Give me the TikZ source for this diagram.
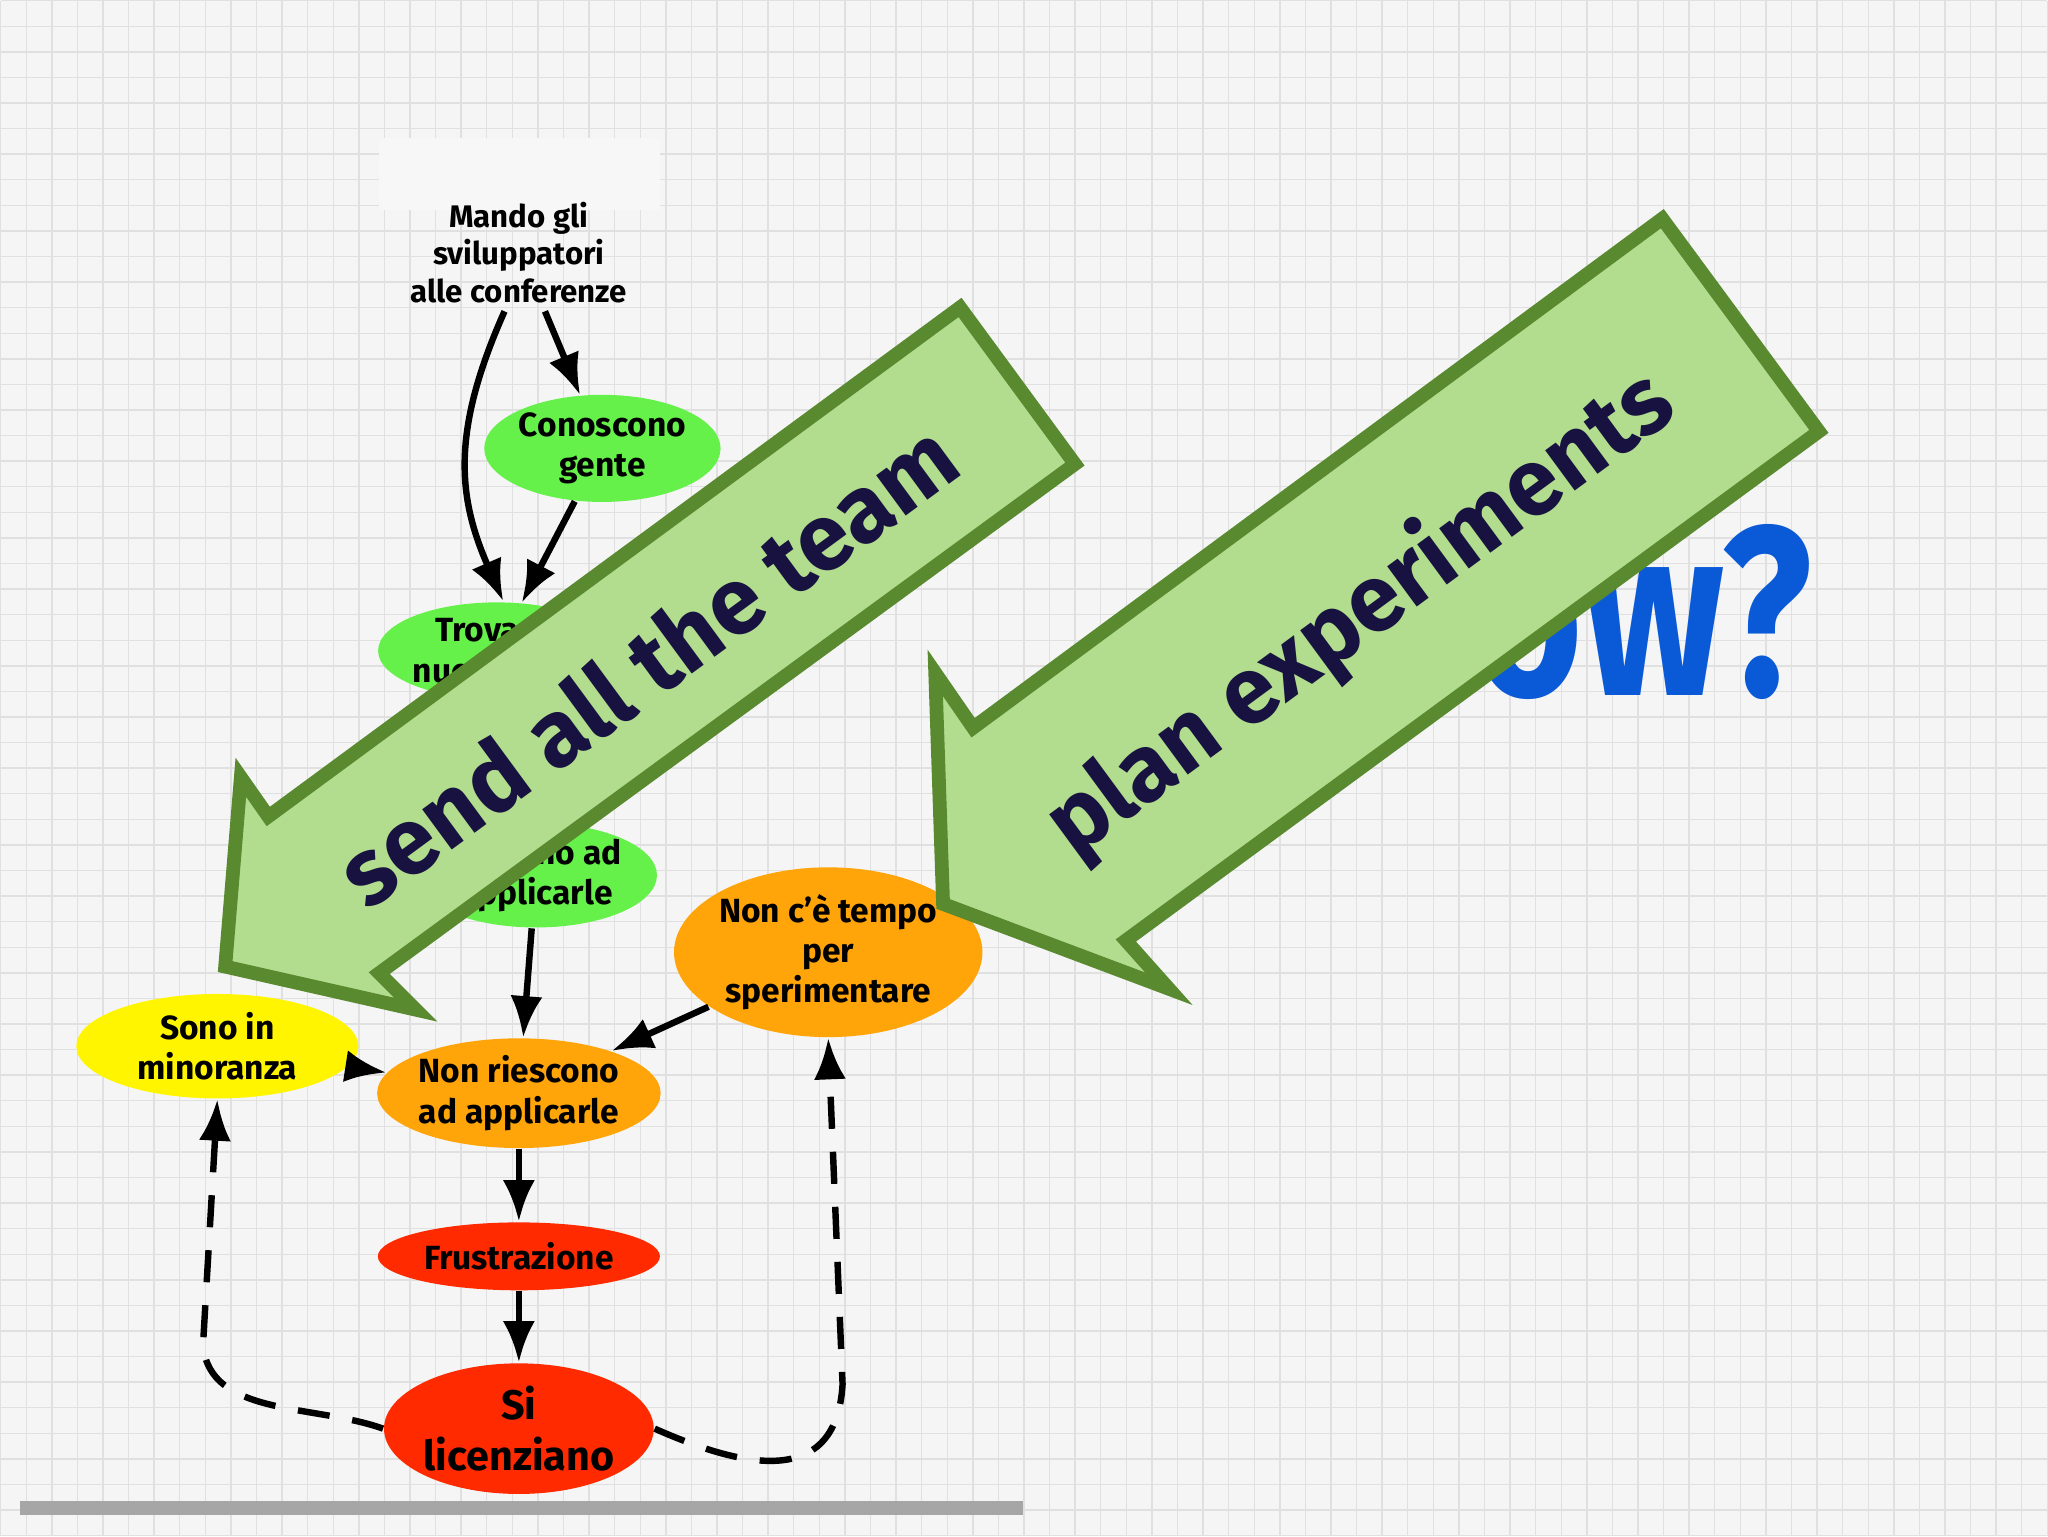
\documentclass[tikz,border=0pt]{standalone}
\usepackage{fontspec}
\setmainfont{Fira Sans}
\usetikzlibrary{shapes.geometric,arrows.meta}
\definecolor{gridc}{HTML}{E0E0E0}
\definecolor{bgc}{HTML}{F5F5F5}
\definecolor{greenA}{HTML}{66F04A}
\definecolor{orangeA}{HTML}{FFA50A}
\definecolor{yellowA}{HTML}{FFF500}
\definecolor{redA}{HTML}{FF2A00}
\definecolor{arrfill}{HTML}{B2DD8E}
\definecolor{arrline}{HTML}{5A8A30}
\definecolor{navy}{HTML}{17123F}
\definecolor{howblue}{HTML}{0A5AD8}
\tikzset{
  bub/.style={ellipse, draw=none, align=center, inner sep=0pt, font=\bfseries\fontsize{7.3}{8.8}\selectfont},
  con/.style={-{Latex[length=9pt,width=7pt]}, line width=1.4pt},
  dcon/.style={con, dash pattern=on 7pt off 5pt},
  bigarr/.style={fill=arrfill, draw=arrline, line width=3pt, line join=miter},
  bigtxt/.style={font=\bfseries\fontsize{20.5}{22}\selectfont, text=navy}
}
\begin{document}
\begin{tikzpicture}[x=0.01cm,y=-0.01cm]
\fill[bgc] (0,0) rectangle (1568,1176);
\foreach \i in {0,...,80} {\draw[gridc, line width=0.3pt] (\i*19.6,0) -- (\i*19.6,1176);}
\foreach \j in {0,...,60} {\draw[gridc, line width=0.3pt] (0,\j*19.6) -- (1568,\j*19.6);}
\useasboundingbox (0,0) rectangle (1568,1176);
\fill[white!94!gray] (290,105) rectangle (505,160);
\draw[gray!70, line width=3pt] (15,1155) -- (783,1155);
% How?
\node[font=\bfseries\fontsize{50}{52}\selectfont, text=howblue] (how) at (1210,468) {\scalebox{0.82}[1.05]{How?}};
% nodes
\node[align=center, font=\bfseries\fontsize{6.8}{8.2}\selectfont] (mando) at (397,193) {Mando gli\\sviluppatori\\alle conferenze};
\node[bub, fill=greenA, minimum width=1.72cm, minimum height=0.82cm] (cono) at (461,343) {Conoscono\\gente};
\node[bub, fill=greenA, minimum width=1.4cm, minimum height=0.74cm] (trov) at (380,498) {Trovano\\nuove idee};
\node[bub, fill=greenA, minimum width=1.44cm, minimum height=0.8cm] (prov) at (410,670) {Provano ad\\applicarle};
\node[bub, fill=orangeA, minimum width=2.14cm, minimum height=1.3cm] (tempo) at (634,729) {Non c'è tempo\\per\\sperimentare};
\node[bub, fill=yellowA, minimum width=2.16cm, minimum height=0.8cm] (sono) at (166,801) {Sono in\\minoranza};
\node[bub, fill=orangeA, minimum width=2.12cm, minimum height=0.84cm] (nonr) at (397,837) {Non riescono\\ad applicarle};
\node[bub, fill=redA, minimum width=2.16cm, minimum height=0.52cm] (frus) at (397,962) {Frustrazione};
\node[bub, fill=redA, minimum width=1.68cm, minimum height=1.0cm, font=\bfseries\fontsize{9}{11}\selectfont] (lic) at (397,1094) {Si\\licenziano};
\coordinate (m1) at (417,238);
\coordinate (m2) at (386,238);
\coordinate (t1e) at (385,460);
% edges
\draw[con] (m1) -- (cono);
\draw[con] (m2) .. controls (345,330) and (350,380) .. (t1e);
\draw[con] (cono) -- (trov);
\draw[con] (trov) -- (prov);
\draw[con] (prov) -- (nonr);
\draw[con] (tempo) -- (nonr);
\draw[con] (sono) -- (nonr);
\draw[dcon] (nonr) -- (frus);
\draw[dcon] (frus) -- (lic);
\draw[dcon] (lic.west) .. controls (240,1075) and (160,1085) .. (155,1030) -- (sono.south);
\draw[dcon] (lic.east) .. controls (560,1120) and (640,1145) .. (645,1060) -- (tempo.south);
% big arrows
\draw[bigarr] (172,740) -- (184,595) -- (205,625) -- (735,235) -- (823,355) -- (290,745) -- (318,773) -- cycle;
\node[bigtxt, rotate=36.3] (txt1) at (495,508) {send all the team};
\draw[bigarr] (722,692) -- (716,515) -- (745,557) -- (1273,167) -- (1393,330) -- (862,720) -- (895,757) -- cycle;
\node[bigtxt, rotate=36.3] (txt2) at (1042,470) {plan experiments};
\end{tikzpicture}
\end{document}
